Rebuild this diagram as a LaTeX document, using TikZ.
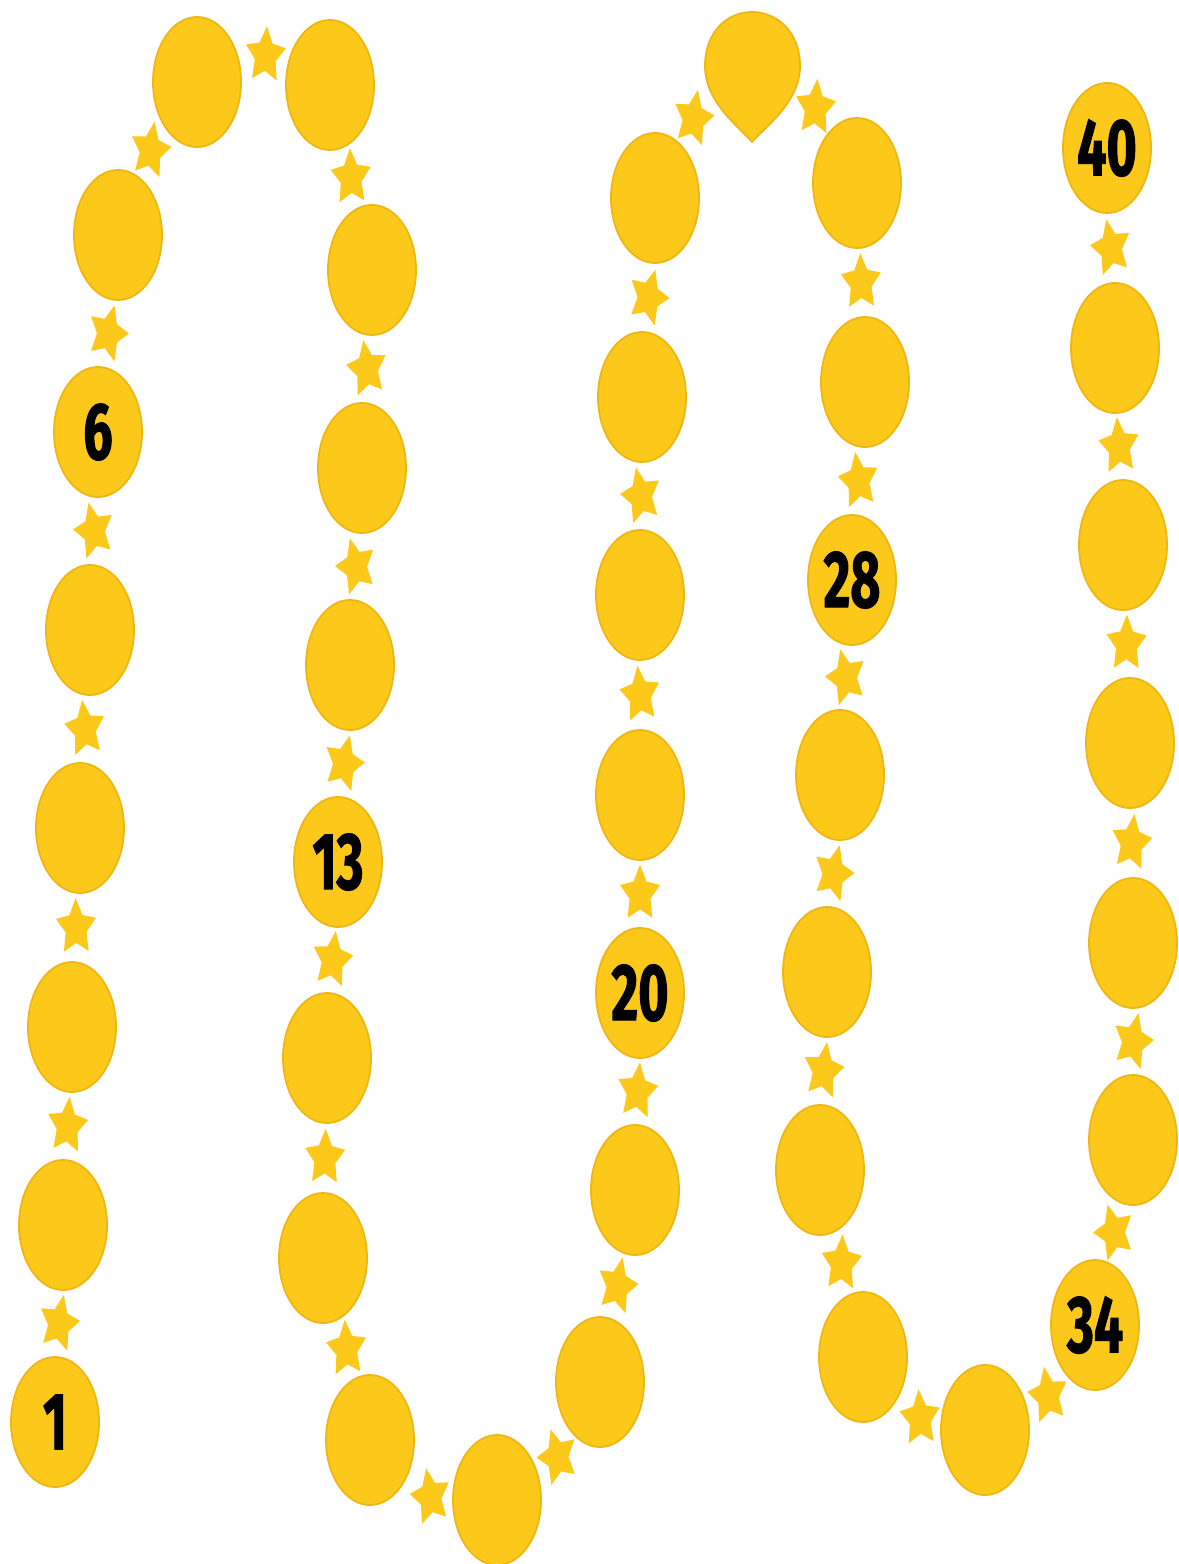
\documentclass[tikz,border=0pt]{standalone}
\usepackage{fontspec}
\newfontfamily\numfont[FakeStretch=0.64, FakeBold=1.2]{Fira Sans}
\usetikzlibrary{shapes.geometric, calc}
\definecolor{balloon}{RGB}{252,200,26}
\definecolor{balloonedge}{RGB}{238,182,18}
\tikzset{
  ball/.style={ellipse, draw=balloonedge, line width=0.5pt, fill=balloon,
    inner sep=0pt, minimum width=0.88cm, minimum height=1.30cm},
  numlabel/.style={font=\numfont\bfseries\fontsize{23}{23}\selectfont, inner sep=0pt},
  sparkle/.pic={
    \fill[balloon] (90:0.21cm)
      \foreach \k in {0,...,4} { -- ({126+72*\k}:0.11cm) -- ({162+72*\k}:0.21cm) } -- cycle;
  },
}

\begin{document}
\begin{tikzpicture}[x=0.01cm, y=-0.01cm]
  \useasboundingbox (0,0) rectangle (1178,1564);

  % Balloons along the winding path
  \foreach \n/\x/\y/\t in {
      1/55/1422/1, 2/63/1225/{}, 3/72/1027/{}, 4/80/828/{}, 5/90/630/{},
      6/98/432/6, 7/118/235/{}, 8/197/82/{}, 9/330/85/{}, 10/372/270/{},
      11/362/468/{}, 12/350/665/{}, 13/338/862/13, 14/327/1058/{}, 15/323/1258/{},
      16/370/1440/{}, 17/497/1500/{}, 18/600/1382/{}, 19/635/1190/{}, 20/640/993/20,
      21/640/795/{}, 22/640/595/{}, 23/642/397/{}, 24/655/198/{},
      26/857/183/{}, 27/865/382/{}, 28/852/580/28, 29/840/775/{}, 30/827/972/{},
      31/820/1170/{}, 32/863/1357/{}, 33/985/1430/{}, 34/1095/1325/34, 35/1133/1140/{},
      36/1133/943/{}, 37/1130/743/{}, 38/1123/545/{}, 39/1115/348/{}, 40/1107/148/40}
    \node[ball, label={[numlabel]center:\t}] (e\n) at (\x,\y) {};

  % top balloon, pointed at the bottom
  \coordinate (e25) at (752,75);
  \filldraw[fill=balloon, draw=balloonedge, line width=0.5pt]
    (752,142) .. controls (738,126) and (705,102) .. (705,66)
    .. controls (705,32) and (727,12) .. (752,12)
    .. controls (777,12) and (800,32) .. (800,66)
    .. controls (800,102) and (766,126) .. (752,142) -- cycle;

  % Stars between neighbours
  \foreach \i [evaluate=\i as \j using int(\i+1)] in
      {1,2,3,4,5,6,9,10,11,12,13,14,15,18,19,20,21,22,23,26,27,28,29,30,31,34,35,36,37,38,39}
    \pic[yscale=1.4, rotate={mod(\i*47,40)-20}] (s\i) at ($(e\i)!0.5!(e\j)$) {sparkle};

  % Stars round the bends
  \foreach \i/\dx/\dy [evaluate=\i as \j using int(\i+1)] in
      {7/-7/-8, 8/2/-28, 16/-3/27, 17/9/16, 24/-10/-18, 25/11/-21, 32/-4/25, 33/8/18}
    \pic[yscale=1.4, rotate={mod(\i*47,40)-20}] (s\i) at ($(e\i)!0.5!(e\j)+(\dx,\dy)$) {sparkle};
\end{tikzpicture}
\end{document}
